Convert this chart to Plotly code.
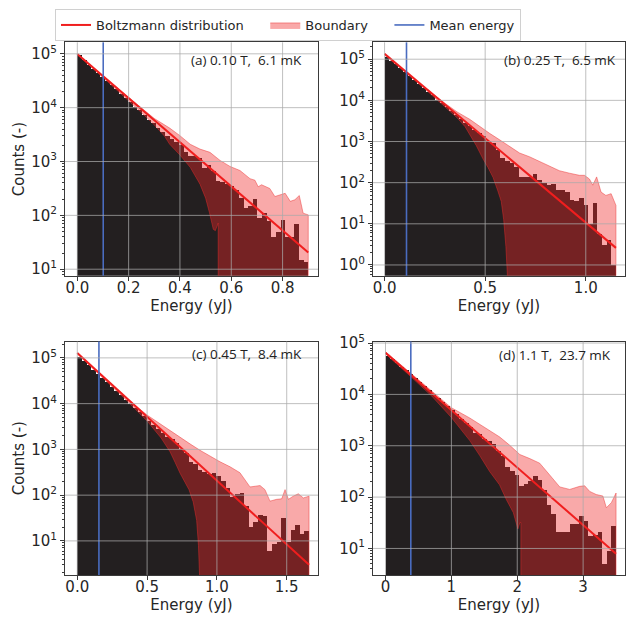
import numpy as np
import plotly.graph_objects as go

N_BINS = 50

# ---------------- (a) 0.10 T, 6.1 mK ----------------
E_MAX_A = 0.9
COUNTS_A = [93000, 77000, 61500, 52000, 43500, 36500, 31000, 25500, 21500, 17800,
            14800, 12400, 10300, 8900, 7300, 5900, 5100, 4200, 3550, 2950,
            2570, 2240, 2000, 1470, 1230, 1230, 1150, 755, 840, 660,
            430, 405, 375, 340, 295, 203, 137, 147, 195, 87,
            110, 78, 39, 48, 80, 39, 39, 68, 14.5, 13.5]
UPPER_A_E = [0.0, 0.1, 0.2, 0.3, 0.36, 0.40, 0.44, 0.478, 0.517, 0.556, 0.595, 0.634,
             0.673, 0.692, 0.705, 0.718, 0.75, 0.77, 0.79, 0.81, 0.83, 0.848, 0.865, 0.88, 0.9]
UPPER_A = [98900, 38900, 15500, 6300, 4170, 3020, 2090, 1700, 1480, 1050, 810, 680,
           480, 450, 340, 370, 316, 224, 240, 257, 182, 195, 234, 110, 102]
LOWER_A_E = [0.0, 0.05, 0.1, 0.15, 0.2, 0.25, 0.3, 0.34, 0.36, 0.40, 0.44, 0.478,
             0.50, 0.515, 0.53, 0.538, 0.549, 0.549, 0.9]
LOWER_A = [97000, 58900, 36300, 22400, 13500, 8100, 4800, 2950, 2090, 1320, 780, 380,
           209, 112, 55, 52, 72, 0.001, 0.001]
BOLTZ_A_E = [0.0, 0.9]
BOLTZ_A = [99000, 20.4]
MEAN_A = 0.101
LABEL_A = "(a) 0.10 T,\u00a0 6.1 mK"

# ---------------- (b) 0.25 T, 6.5 mK ----------------
E_MAX_B = 1.15
COUNTS_B = [112000, 91000, 74000, 59000, 48000, 38000, 31000, 24500, 20000, 16000,
            12900, 10200, 8300, 6600, 5400, 4300, 3450, 2750, 2300, 1900,
            1590, 1320, 1000, 890, 600, 400, 335, 290, 240, 135,
            138, 138, 161, 116, 98, 87, 93, 65, 65, 59,
            37, 35, 41, 28, 9.8, 31, 5.6, 3.0, 3.9, 1.0]
UPPER_B_E = [0.0, 0.1, 0.2, 0.3, 0.36, 0.423, 0.473, 0.522, 0.572, 0.621, 0.671, 0.72,
             0.77, 0.82, 0.869, 0.919, 0.968, 0.993, 1.018, 1.035, 1.054, 1.076, 1.10, 1.126, 1.15]
UPPER_B = [134900, 52500, 20400, 8500, 5250, 3470, 2290, 1580, 1100, 760, 525, 427,
           331, 245, 195, 170, 151, 151, 123, 87, 138, 59, 49, 54, 28]
LOWER_B_E = [0.0, 0.1, 0.2, 0.3, 0.36, 0.40, 0.423, 0.456, 0.489, 0.514, 0.539, 0.563,
             0.58, 0.592, 0.603, 0.611, 0.62, 1.15]
LOWER_B = [126000, 49000, 19000, 7080, 3800, 2290, 1510, 794, 380, 234, 135, 63,
           35, 12.6, 2.8, 0.5, 0.001, 0.001]
BOLTZ_B_E = [0.0, 1.15]
BOLTZ_B = [135000, 2.6]
MEAN_B = 0.109
LABEL_B = "(b) 0.25 T,\u00a0 6.5 mK"

# ---------------- (c) 0.45 T, 8.4 mK ----------------
E_MAX_C = 1.66
COUNTS_C = [107000, 87000, 70800, 56200, 45700, 37200, 30200, 24000, 19500, 15800,
            12600, 10200, 8300, 6750, 5400, 4350, 3550, 2900, 2350, 1900,
            1700, 1410, 1070, 850, 550, 490, 363, 325, 300, 310,
            265, 205, 145, 95, 107, 112, 60, 21, 27, 38,
            36, 6.3, 8.7, 9.5, 32, 9.5, 18, 23, 14.5, 17]
UPPER_C_E = [0.0, 0.2, 0.4, 0.5, 0.6, 0.664, 0.736, 0.807, 0.879, 0.95, 1.022, 1.094,
             1.165, 1.237, 1.309, 1.344, 1.38, 1.428, 1.464, 1.488, 1.512, 1.547, 1.583,
             1.619, 1.66]
UPPER_C = [128000, 35500, 10000, 5620, 3470, 2630, 1820, 1320, 955, 708, 537, 417,
           309, 151, 162, 132, 74, 81, 83, 132, 81, 95, 107, 87, 95]
LOWER_C_E = [0.0, 0.2, 0.35, 0.5, 0.6, 0.664, 0.70, 0.736, 0.771, 0.80, 0.83, 0.855,
             0.868, 0.876, 0.88, 1.66]
LOWER_C = [123000, 33100, 12000, 4170, 1780, 891, 525, 302, 191, 132, 71, 28,
           7.9, 1.6, 0.001, 0.001]
BOLTZ_C_E = [0.0, 1.66]
BOLTZ_C = [128000, 3.0]
MEAN_C = 0.155
LABEL_C = "(c) 0.45 T,\u00a0 8.4 mK"

# ---------------- (d) 1.1 T, 23.7 mK ----------------
E_MAX_D = 3.5
COUNTS_D = [57500, 49000, 41700, 35500, 30200, 25700, 21400, 17800, 15100, 12600,
            10500, 8700, 7240, 6030, 5000, 4170, 3390, 2820, 2340, 1820,
            1700, 1410, 1260, 1090, 810, 650, 390, 330, 270, 166,
            187, 207, 258, 218, 141, 73, 47, 21, 21, 21.5,
            30, 30, 44, 35, 18, 19, 21.5, 5.2, 9.3, 27.5]
UPPER_D_E = [0.0, 0.5, 1.0, 1.279, 1.431, 1.583, 1.734, 1.886, 2.038, 2.19, 2.341,
             2.493, 2.645, 2.797, 2.948, 3.024, 3.10, 3.2, 3.3, 3.353, 3.429, 3.5]
UPPER_D = [67600, 19100, 5500, 3470, 2630, 1950, 1480, 1020, 676, 562, 457,
           269, 158, 141, 162, 166, 129, 112, 105, 62, 78, 120]
LOWER_D_E = [0.0, 0.38, 0.7, 1.0, 1.279, 1.43, 1.58, 1.73, 1.835, 1.94, 2.01, 2.04,
             2.055, 2.055, 3.5]
LOWER_D = [61700, 22400, 9330, 3550, 1260, 646, 316, 174, 89, 50, 24, 32,
           32, 0.001, 0.001]
BOLTZ_D_E = [0.0, 3.5]
BOLTZ_D = [64600, 7.9]
MEAN_D = 0.384
LABEL_D = "(d) 1.1 T,\u00a0 23.7 mK"

# Tick values per panel
XTICKS_A = [0.0, 0.2, 0.4, 0.6, 0.8]
XTICKS_B = [0.0, 0.5, 1.0]
XTICKS_C = [0.0, 0.5, 1.0, 1.5]
XTICKS_D = [0, 1, 2, 3]
YDECADES_A = [1, 2, 3, 4, 5]
YDECADES_B = [0, 1, 2, 3, 4, 5]
YDECADES_C = [1, 2, 3, 4, 5]
YDECADES_D = [1, 2, 3, 4, 5]

W = H = 626
BAR_COLOR = "#231f20"
BAND_FILL = "rgba(240,40,40,0.40)"
BAND_EDGE = "rgba(235,45,45,0.45)"
LINE_RED = "#f01e1e"
MEAN_BLUE = "#4a6cc0"
GRID = "rgba(170,170,170,0.75)"
AX = "#3a3a3a"
TXT = "#262626"
FONT = "DejaVu Sans"
PAD = "\u00a0" * 4  # extra room between legend entries

panels = [
    dict(e_max=E_MAX_A, counts=COUNTS_A, up_e=UPPER_A_E, up=UPPER_A, lo_e=LOWER_A_E, lo=LOWER_A,
         bz_e=BOLTZ_A_E, bz=BOLTZ_A, mean=MEAN_A, label=LABEL_A, xticks=XTICKS_A, xfmt=".1f",
         ydec=YDECADES_A, xdom=(65, 318), ydom=(34, 272), xr=(-0.048, 0.938), yr=(0.878, 5.213),
         lab_xy=(189, 52.5), ytitle=True),
    dict(e_max=E_MAX_B, counts=COUNTS_B, up_e=UPPER_B_E, up=UPPER_B, lo_e=LOWER_B_E, lo=LOWER_B,
         bz_e=BOLTZ_B_E, bz=BOLTZ_B, mean=MEAN_B, label=LABEL_B, xticks=XTICKS_B, xfmt=".1f",
         ydec=YDECADES_B, xdom=(373, 625), ydom=(34, 272), xr=(-0.0575, 1.195), yr=(-0.263, 5.41),
         lab_xy=(502, 52), ytitle=False),
    dict(e_max=E_MAX_C, counts=COUNTS_C, up_e=UPPER_C_E, up=UPPER_C, lo_e=LOWER_C_E, lo=LOWER_C,
         bz_e=BOLTZ_C_E, bz=BOLTZ_C, mean=MEAN_C, label=LABEL_C, xticks=XTICKS_C, xfmt=".1f",
         ydec=YDECADES_C, xdom=(65, 318), ydom=(339, 577), xr=(-0.088, 1.724), yr=(0.256, 5.358),
         lab_xy=(190, 352), ytitle=True),
    dict(e_max=E_MAX_D, counts=COUNTS_D, up_e=UPPER_D_E, up=UPPER_D, lo_e=LOWER_D_E, lo=LOWER_D,
         bz_e=BOLTZ_D_E, bz=BOLTZ_D, mean=MEAN_D, label=LABEL_D, xticks=XTICKS_D, xfmt="d",
         ydec=YDECADES_D, xdom=(373, 625), ydom=(339, 577), xr=(-0.19, 3.636), yr=(0.484, 5.03),
         lab_xy=(497, 353), ytitle=False),
]

fig = go.Figure()
shapes = []
annotations = []
layout_axes = {}

for i, p in enumerate(panels, start=1):
    xa = "x" if i == 1 else f"x{i}"
    ya = "y" if i == 1 else f"y{i}"
    xname = "xaxis" if i == 1 else f"xaxis{i}"
    yname = "yaxis" if i == 1 else f"yaxis{i}"

    # histogram bars
    edges = np.linspace(0.0, p["e_max"], N_BINS + 1)
    centers = 0.5 * (edges[:-1] + edges[1:])
    fig.add_trace(go.Bar(
        x=centers, y=p["counts"], width=edges[1] - edges[0],
        marker=dict(color=BAR_COLOR, line=dict(width=0)),
        xaxis=xa, yaxis=ya, showlegend=False, hoverinfo="skip"))

    # boundary band between the lower and upper curves
    poly_x = list(p["up_e"]) + list(p["lo_e"])[::-1]
    poly_y = list(p["up"]) + list(p["lo"])[::-1]
    fig.add_trace(go.Scatter(
        x=poly_x, y=poly_y, mode="lines", fill="toself", fillcolor=BAND_FILL,
        line=dict(color=BAND_EDGE, width=1), name="Boundary" + PAD,
        legendrank=2, showlegend=(i == 1), xaxis=xa, yaxis=ya, hoverinfo="skip"))

    # Boltzmann distribution
    fig.add_trace(go.Scatter(
        x=p["bz_e"], y=p["bz"], mode="lines", line=dict(color=LINE_RED, width=2),
        name="Boltzmann distribution" + PAD, legendrank=1, showlegend=(i == 1),
        xaxis=xa, yaxis=ya, hoverinfo="skip"))

    # mean energy marker line
    shapes.append(dict(type="line", xref=xa, yref=f"{ya} domain",
                       x0=p["mean"], x1=p["mean"], y0=0, y1=1,
                       line=dict(color=MEAN_BLUE, width=1.6), layer="above"))

    # grid drawn over the data
    for xv in p["xticks"]:
        shapes.append(dict(type="line", xref=xa, yref=f"{ya} domain", x0=xv, x1=xv, y0=0, y1=1,
                           line=dict(color=GRID, width=1), layer="above"))
    for d in p["ydec"]:
        shapes.append(dict(type="line", xref=f"{xa} domain", yref=ya, x0=0, x1=1,
                           y0=10.0 ** d, y1=10.0 ** d,
                           line=dict(color=GRID, width=1), layer="above"))

    minor_vals = [m * 10.0 ** d for d in range(-1, 6) for m in range(2, 10)]
    layout_axes[xname] = dict(
        domain=[p["xdom"][0] / W, p["xdom"][1] / W], range=list(p["xr"]), anchor=ya,
        tickmode="array", tickvals=p["xticks"],
        ticktext=[format(v, p["xfmt"]) for v in p["xticks"]],
        showline=True, linecolor=AX, linewidth=1, mirror=True,
        ticks="outside", ticklen=4, tickwidth=1, tickcolor=AX, ticklabelstandoff=-6,
        showgrid=False, zeroline=False,
        tickfont=dict(family=FONT, size=15, color=TXT),
        title=dict(text="Energy (yJ)", font=dict(family=FONT, size=15, color=TXT), standoff=3))
    ycfg = dict(
        domain=[1 - p["ydom"][1] / H, 1 - p["ydom"][0] / H], type="log", range=list(p["yr"]),
        anchor=xa, tickmode="array", tickvals=[10.0 ** d for d in p["ydec"]],
        ticktext=[f"10<sup>{d}</sup>" for d in p["ydec"]],
        showline=True, linecolor=AX, linewidth=1, mirror=True,
        ticks="outside", ticklen=4, tickwidth=1, tickcolor=AX,
        minor=dict(tickmode="array", tickvals=minor_vals, ticks="outside", ticklen=2,
                   tickcolor=AX, showgrid=False),
        showgrid=False, zeroline=False,
        tickfont=dict(family=FONT, size=15, color=TXT))
    if p["ytitle"]:
        ycfg["title"] = dict(text="Counts (-)", font=dict(family=FONT, size=15, color=TXT), standoff=2)
    layout_axes[yname] = ycfg

    annotations.append(dict(
        text=p["label"], xref="paper", yref="paper",
        x=p["lab_xy"][0] / W, y=1 - p["lab_xy"][1] / H,
        xanchor="left", yanchor="middle", showarrow=False,
        font=dict(family="Open Sans", size=13.5, color="#222222")))

# legend entry for the mean-energy lines
fig.add_trace(go.Scatter(x=[None], y=[None], mode="lines", line=dict(color=MEAN_BLUE, width=1.6),
                         name="Mean energy", legendrank=3, xaxis="x", yaxis="y"))

fig.update_layout(
    width=W, height=H, margin=dict(l=0, r=0, t=0, b=0),
    paper_bgcolor="white", plot_bgcolor="white",
    bargap=0, barmode="overlay",
    shapes=shapes, annotations=annotations,
    legend=dict(orientation="h", x=55 / W, xanchor="left", y=1, yanchor="top",
                font=dict(family=FONT, size=13, color=TXT),
                bordercolor="#d0d0d0", borderwidth=1, bgcolor="white",
                itemwidth=30, tracegroupgap=0),
    **layout_axes)

fig.write_html("out.html")
